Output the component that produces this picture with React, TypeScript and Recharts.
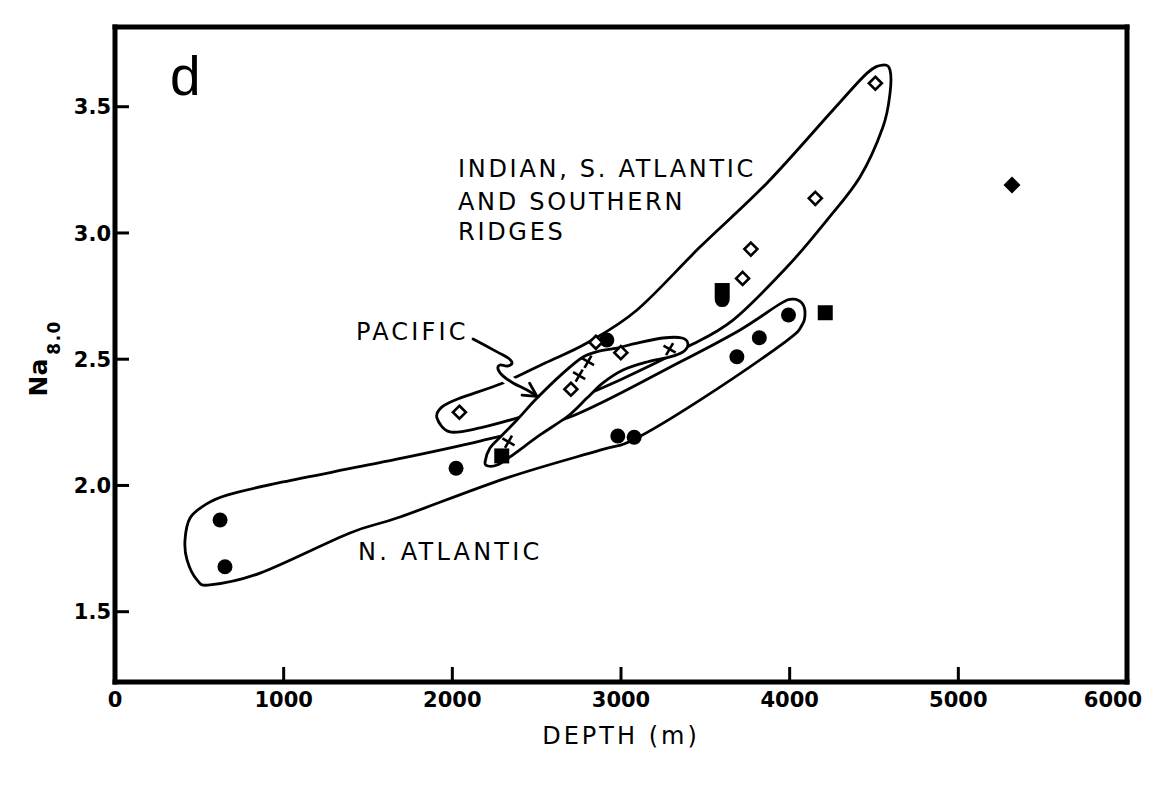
import React from 'react';
import { ScatterChart, Scatter, XAxis, YAxis } from 'recharts';

// ---- tick values ----
const xTicks = [0, 1000, 2000, 3000, 4000, 5000, 6000];
const xTicksTop = [1000, 2000, 3000, 4000, 5000];
const yTicks = [1.5, 2.0, 2.5, 3.0, 3.5];

// ---- data points [depth (m), Na8.0] ----
const filledCircles = [
  [623, 1.863], [652, 1.678], [2022, 2.068], [2916, 2.576], [2981, 2.196],
  [3078, 2.191], [3687, 2.51], [3820, 2.585], [3993, 2.675], [3600, 2.736],
];
const filledSquares = [[2293, 2.117], [3600, 2.772], [4211, 2.684]];
const filledDiamonds = [[5318, 3.19]];
const openDiamonds = [
  [2042, 2.29], [2851, 2.567], [2999, 2.526], [2703, 2.381],
  [3721, 2.82], [3770, 2.936], [4152, 3.137], [4508, 3.593],
];
const crosses = [[2333, 2.173], [2752, 2.435], [2804, 2.49], [3288, 2.54]];

// ---- hand-drawn field envelopes (outline vertices, data units) ----
const nAtlanticEnvelope = [
  [415, 1.784], [445, 1.871], [534, 1.923], [664, 1.962], [996, 2.014], [1589, 2.093],
  [2164, 2.176], [2698, 2.271], [3350, 2.489], [3706, 2.616], [3943, 2.719], [4020, 2.738],
  [4073, 2.722], [4091, 2.683], [4073, 2.635], [3972, 2.568], [3468, 2.338], [3071, 2.18],
  [2876, 2.14], [2324, 2.03], [1690, 1.875], [1393, 1.812], [860, 1.653], [563, 1.606],
  [486, 1.626], [427, 1.705],
];
const indianEnvelope = [
  [1909, 2.267], [1939, 2.311], [2045, 2.346], [2300, 2.406], [2550, 2.485], [2798, 2.564],
  [3095, 2.695], [3468, 2.944], [3866, 3.198], [4257, 3.487], [4459, 3.633], [4553, 3.665],
  [4595, 3.645], [4595, 3.554], [4553, 3.42], [4417, 3.222], [4221, 3.051], [3984, 2.865],
  [3664, 2.655], [3391, 2.548], [2994, 2.418], [2638, 2.319], [2383, 2.267], [2164, 2.228],
  [1986, 2.212],
];
const pacificEnvelope = [
  [2194, 2.093], [2223, 2.148], [2283, 2.191], [2383, 2.259], [2502, 2.346], [2656, 2.445],
  [2775, 2.509], [2876, 2.533], [2976, 2.544], [3095, 2.564], [3249, 2.584], [3362, 2.584],
  [3397, 2.56], [3368, 2.529], [3291, 2.509], [3154, 2.489], [3012, 2.457], [2893, 2.406],
  [2798, 2.346], [2686, 2.275], [2520, 2.2], [2342, 2.113], [2265, 2.081], [2211, 2.077],
];
const pacificArrow = [
  [2123, 2.58], [2265, 2.529], [2330, 2.505], [2354, 2.485], [2324, 2.473], [2283, 2.477],
  [2271, 2.461], [2300, 2.434], [2360, 2.406], [2443, 2.378], [2502, 2.353],
];

const toPts = (arr: number[][]) => arr.map(([x, y]) => ({ x, y }));

type P = { x: number; y: number };

function closedPath(pts: P[]) {
  const n = pts.length;
  if (n < 3) return '';
  let d = `M${pts[0].x},${pts[0].y}`;
  for (let i = 0; i < n; i++) {
    const p0 = pts[(i - 1 + n) % n], p1 = pts[i], p2 = pts[(i + 1) % n], p3 = pts[(i + 2) % n];
    const c1x = p1.x + (p2.x - p0.x) / 6, c1y = p1.y + (p2.y - p0.y) / 6;
    const c2x = p2.x - (p3.x - p1.x) / 6, c2y = p2.y - (p3.y - p1.y) / 6;
    d += ` C${c1x},${c1y} ${c2x},${c2y} ${p2.x},${p2.y}`;
  }
  return d + ' Z';
}

function openPath(pts: P[]) {
  const n = pts.length;
  if (n < 2) return '';
  let d = `M${pts[0].x},${pts[0].y}`;
  for (let i = 0; i < n - 1; i++) {
    const p0 = pts[Math.max(0, i - 1)], p1 = pts[i], p2 = pts[i + 1], p3 = pts[Math.min(n - 1, i + 2)];
    const c1x = p1.x + (p2.x - p0.x) / 6, c1y = p1.y + (p2.y - p0.y) / 6;
    const c2x = p2.x - (p3.x - p1.x) / 6, c2y = p2.y - (p3.y - p1.y) / 6;
    d += ` C${c1x},${c1y} ${c2x},${c2y} ${p2.x},${p2.y}`;
  }
  return d;
}

const INK = '#000';
const LW = 2.8;

const envelopeLine = (fill: string) => (props: any) => (
  <path d={closedPath(props.points || [])} fill={fill} stroke={INK} strokeWidth={LW} strokeLinejoin="round" />
);

const arrowLine = (props: any) => {
  const pts: P[] = props.points || [];
  const n = pts.length;
  if (n < 2) return <g />;
  const tip = pts[n - 1], prev = pts[n - 2];
  const a = Math.atan2(tip.y - prev.y, tip.x - prev.x);
  const L = 15, s = (28 * Math.PI) / 180;
  const b1 = { x: tip.x - L * Math.cos(a - s), y: tip.y - L * Math.sin(a - s) };
  const b2 = { x: tip.x - L * Math.cos(a + s), y: tip.y - L * Math.sin(a + s) };
  return (
    <g>
      <path d={openPath(pts.slice(0, n - 1))} fill="none" stroke="#fff" strokeWidth={10} />
      <path d={openPath(pts)} fill="none" stroke={INK} strokeWidth={LW} strokeLinecap="round" strokeLinejoin="round" />
      <path d={`M${b1.x},${b1.y} L${tip.x},${tip.y} L${b2.x},${b2.y}`} fill="none" stroke={INK} strokeWidth={LW} strokeLinecap="round" strokeLinejoin="miter" />
    </g>
  );
};

const noShape = () => <g />;
const circleShape = (p: any) => <circle cx={p.cx} cy={p.cy} r={7.5} fill={INK} />;
const squareShape = (p: any) => <rect x={p.cx - 7.5} y={p.cy - 7.5} width={15} height={15} fill={INK} />;
const filledDiamondShape = (p: any) => {
  const h = 8.5;
  return <polygon points={`${p.cx},${p.cy - h} ${p.cx + h},${p.cy} ${p.cx},${p.cy + h} ${p.cx - h},${p.cy}`} fill={INK} />;
};
const openDiamondShape = (p: any) => {
  const h = 6.5;
  return (
    <polygon
      points={`${p.cx},${p.cy - h} ${p.cx + h},${p.cy} ${p.cx},${p.cy + h} ${p.cx - h},${p.cy}`}
      fill="#fff" stroke={INK} strokeWidth={2.6} strokeLinejoin="miter"
    />
  );
};
const crossShape = (p: any) => {
  const r = 7;
  const a = (30 * Math.PI) / 180;
  const c = Math.cos(a) * r, s = Math.sin(a) * r;
  return (
    <g stroke={INK} strokeWidth={2.6} strokeLinecap="butt">
      <line x1={p.cx - c} y1={p.cy - s} x2={p.cx + c} y2={p.cy + s} />
      <line x1={p.cx + s} y1={p.cy - c} x2={p.cx - s} y2={p.cy + c} />
    </g>
  );
};

const axisLineStyle = { stroke: INK, strokeWidth: 5, strokeLinecap: 'square' as const };
const tickLineStyle = { stroke: INK, strokeWidth: 3 };
const tickFont = { fill: INK, fontSize: 21, fontWeight: 'bold', fontFamily: 'DejaVu Sans' };
const labelFont = { fontFamily: 'DejaVu Sans', fontSize: 24, fill: INK, letterSpacing: 2.7 };

const XTick = (p: any) => {
  const v = p.payload.value;
  const shift = v === 6000 ? -14 : 0;
  return (
    <text x={p.x + shift} y={p.y} dy="0.71em" textAnchor="middle" {...tickFont}>
      {String(v)}
    </text>
  );
};

const YTick = (p: any) => (
  <text x={p.x} y={p.y} dy="0.36em" textAnchor="end" {...tickFont}>
    {Number(p.payload.value).toFixed(1)}
  </text>
);

const YTitle = (props: any) => {
  const vb = props.viewBox || { x: 114, y: 27, height: 655 };
  const x = vb.x - 67;
  const y = vb.y + vb.height / 2 + 42;
  return (
    <text x={x} y={y} transform={`rotate(-90 ${x} ${y})`} fontFamily="DejaVu Sans" fontWeight="bold" fill={INK}>
      <tspan fontSize={25}>Na</tspan>
      <tspan fontSize={17} dy={13} dx={4} letterSpacing={1.5}>8.0</tspan>
    </text>
  );
};

export default function App() {
  return (
    <div style={{ position: 'absolute', left: 0, top: 0, width: 1164, height: 790, background: '#fff' }}>
      <ScatterChart width={1164} height={790} margin={{ top: 26, right: 36, bottom: 107, left: 114 }}>
        <XAxis
          xAxisId="b" type="number" dataKey="x" orientation="bottom" domain={[0, 6000]} ticks={xTicks}
          allowDataOverflow interval={0} height={1} axisLine={axisLineStyle} tickLine={tickLineStyle}
          tickSize={-15} tickMargin={25} tick={XTick}
          label={{ value: 'DEPTH (m)', position: 'bottom', offset: 44, fill: INK, fontSize: 24, fontFamily: 'DejaVu Sans', style: { letterSpacing: 3 } }}
        />
        <XAxis
          xAxisId="t" type="number" dataKey="x" orientation="top" domain={[0, 6000]} ticks={xTicksTop}
          allowDataOverflow interval={0} height={1} axisLine={axisLineStyle} tickLine={tickLineStyle}
          tickSize={-14} tick={false}
        />
        <YAxis
          yAxisId="l" type="number" dataKey="y" orientation="left" domain={[1.2216, 3.8157]} ticks={yTicks}
          allowDataOverflow interval={0} width={1} axisLine={axisLineStyle} tickLine={tickLineStyle}
          tickSize={-14} tickMargin={18} tick={YTick} label={{ content: YTitle }}
        />
        <YAxis
          yAxisId="r" type="number" dataKey="y" orientation="right" domain={[1.2216, 3.8157]} ticks={yTicks}
          allowDataOverflow interval={0} width={1} axisLine={axisLineStyle} tickLine={tickLineStyle}
          tickSize={-16} tick={false}
        />

        <Scatter xAxisId="b" yAxisId="l" data={toPts(indianEnvelope)} shape={noShape} line={envelopeLine('none')} isAnimationActive={false} />
        <Scatter xAxisId="b" yAxisId="l" data={toPts(nAtlanticEnvelope)} shape={noShape} line={envelopeLine('none')} isAnimationActive={false} />
        <Scatter xAxisId="b" yAxisId="l" data={toPts(pacificEnvelope)} shape={noShape} line={envelopeLine('#fff')} isAnimationActive={false} />

        <Scatter xAxisId="b" yAxisId="l" data={toPts(filledCircles)} shape={circleShape} isAnimationActive={false} />
        <Scatter xAxisId="b" yAxisId="l" data={toPts(filledSquares)} shape={squareShape} isAnimationActive={false} />
        <Scatter xAxisId="b" yAxisId="l" data={toPts(filledDiamonds)} shape={filledDiamondShape} isAnimationActive={false} />
        <Scatter xAxisId="b" yAxisId="l" data={toPts(openDiamonds)} shape={openDiamondShape} isAnimationActive={false} />
        <Scatter xAxisId="b" yAxisId="l" data={toPts(crosses)} shape={crossShape} isAnimationActive={false} />
        <Scatter xAxisId="b" yAxisId="l" data={toPts(pacificArrow)} shape={noShape} line={arrowLine} isAnimationActive={false} />
      </ScatterChart>

      <svg width={1164} height={790} style={{ position: 'absolute', left: 0, top: 0, pointerEvents: 'none' }}>
        <text x={170} y={95} fontFamily="'Liberation Sans Narrow', 'Liberation Sans', sans-serif" fontSize={55} fill={INK}>d</text>
        <text x={458} y={177} {...labelFont}>INDIAN, S. ATLANTIC</text>
        <text x={458} y={210} {...labelFont}>AND SOUTHERN</text>
        <text x={458} y={240} {...labelFont}>RIDGES</text>
        <text x={356} y={340} {...labelFont} letterSpacing={3.2}>PACIFIC</text>
        <text x={358} y={560} {...labelFont} letterSpacing={3.2}>N. ATLANTIC</text>
      </svg>
    </div>
  );
}
